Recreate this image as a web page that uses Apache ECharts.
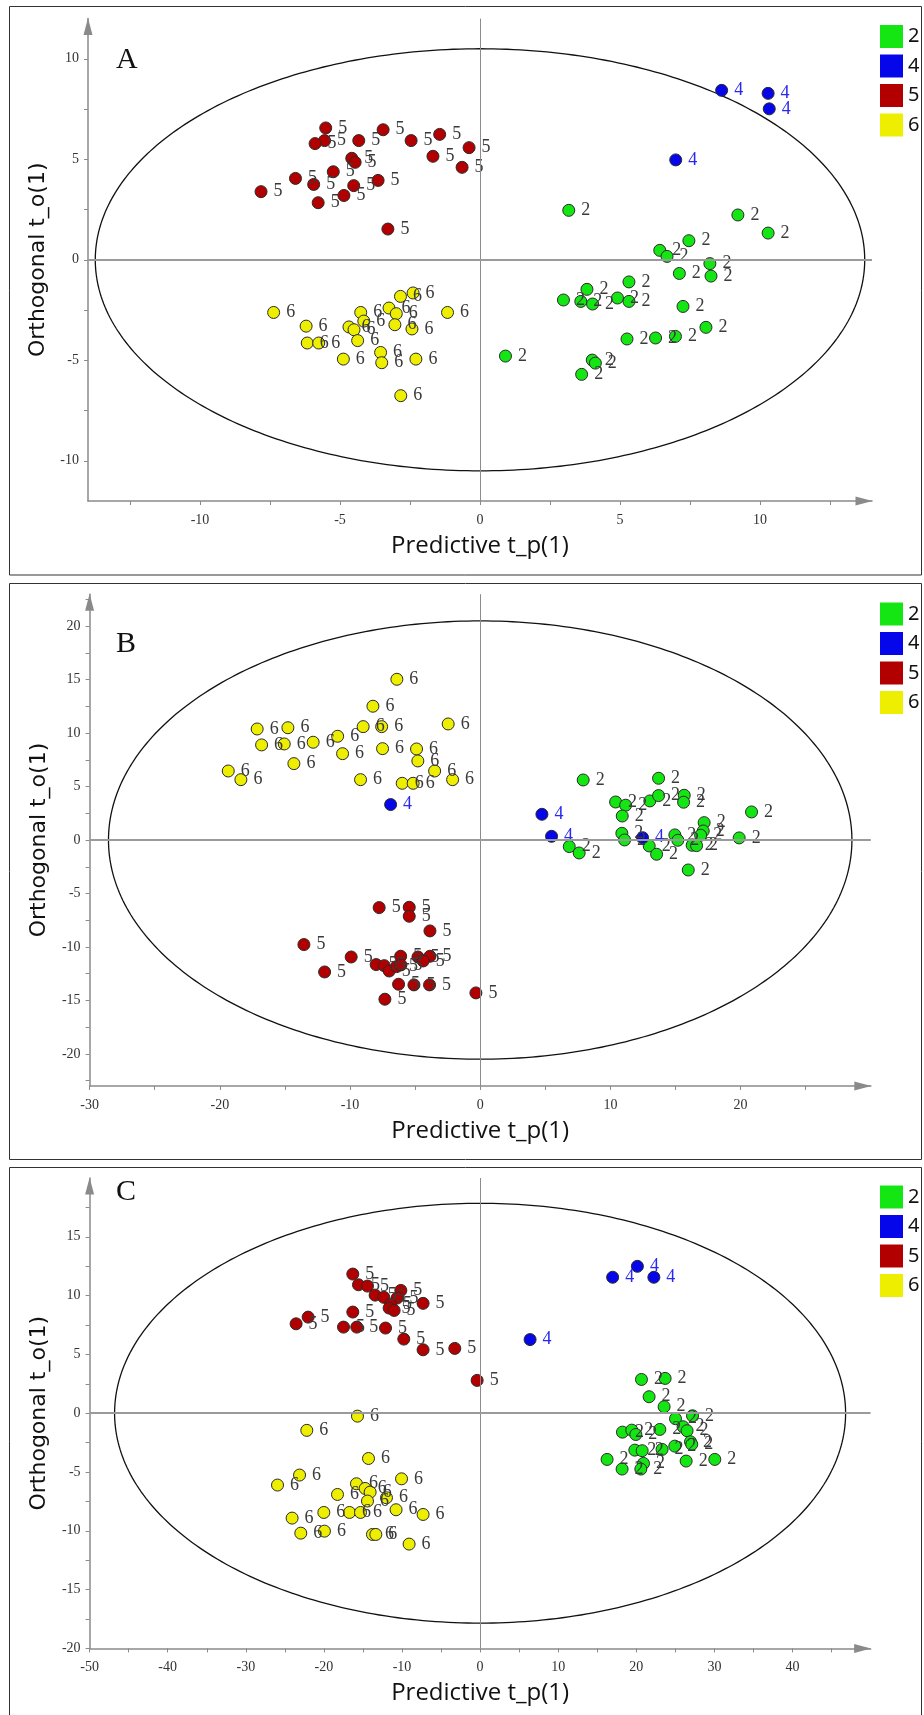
<!DOCTYPE html>
<html>
<head>
<meta charset="utf-8">
<script src="https://cdn.jsdelivr.net/npm/echarts@6/dist/echarts.min.js"></script>
<style>
  html, body { margin: 0; padding: 0; background: #ffffff; }
  #chart { width: 924px; height: 1715px; }
</style>
</head>
<body>
<div id="chart"></div>
<script>
// OPLS-DA score plots (predictive vs. orthogonal component), three models A, B, C.
// Classes: 2, 4, 5, 6. Each entry is [t_p(1), t_o(1)].

const classes = ['2', '4', '5', '6'];

// ---- Model A ----
const A_class2 = [[3.17,2.46],[9.21,2.23],[10.29,1.33],[7.46,0.95],[6.42,0.47],[6.68,0.17],[8.21,-0.19],[8.25,-0.81],[7.12,-0.68],[5.32,-1.10],[3.82,-1.47],[2.98,-2.00],[3.60,-2.07],[4.02,-2.20],[4.91,-1.90],[5.32,-2.07],[7.25,-2.32],[8.07,-3.36],[5.25,-3.94],[6.27,-3.89],[6.98,-3.81],[0.91,-4.79],[4.01,-4.99],[4.12,-5.14],[3.63,-5.70]];
const A_class4 = [[8.63,8.43],[10.29,8.28],[10.33,7.51],[6.99,4.97]];
const A_class5 = [[-5.51,6.56],[-5.55,5.93],[-5.89,5.78],[-4.33,5.93],[-3.46,6.47],[-2.46,5.93],[-1.44,6.24],[-0.39,5.58],[-1.68,5.15],[-0.64,4.60],[-4.58,5.05],[-4.46,4.85],[-5.24,4.38],[-6.59,4.05],[-5.94,3.75],[-4.51,3.69],[-3.64,3.95],[-7.82,3.39],[-4.86,3.20],[-5.78,2.84],[-3.29,1.53]];
const A_class6 = [[-7.37,-2.62],[-6.21,-3.30],[-6.17,-4.14],[-5.76,-4.14],[-4.88,-4.94],[-4.68,-3.34],[-4.50,-3.48],[-4.37,-4.02],[-4.26,-2.62],[-4.15,-3.05],[-3.55,-4.61],[-3.51,-5.12],[-3.25,-2.40],[-2.99,-2.68],[-3.04,-3.23],[-2.84,-1.82],[-2.39,-1.65],[-2.43,-3.44],[-2.29,-4.94],[-1.16,-2.62],[-2.83,-6.76]];

// ---- Model B ----
const B_class2 = [[7.91,5.62],[13.70,5.78],[10.40,3.56],[11.17,3.26],[10.91,2.25],[13.03,3.66],[13.70,4.16],[15.67,4.19],[15.62,3.54],[20.84,2.63],[17.20,1.63],[17.13,0.85],[16.93,0.45],[10.88,0.63],[11.09,0.01],[14.95,0.48],[15.18,-0.02],[19.89,0.20],[6.84,-0.61],[7.60,-1.21],[12.98,-0.55],[13.55,-1.33],[16.28,-0.49],[16.62,-0.52],[15.98,-2.80]];
const B_class4 = [[-6.88,3.32],[4.74,2.41],[5.48,0.35],[12.47,0.22]];
const B_class5 = [[-7.76,-6.32],[-5.45,-6.29],[-5.45,-7.13],[-3.86,-8.50],[-13.54,-9.78],[-9.91,-10.94],[-6.11,-10.87],[-4.78,-10.94],[-3.86,-10.87],[-4.38,-11.31],[-7.99,-11.65],[-7.37,-11.75],[-6.99,-12.25],[-6.42,-11.84],[-6.09,-11.68],[-11.95,-12.34],[-6.27,-13.49],[-5.09,-13.55],[-3.89,-13.55],[-7.32,-14.89],[-0.33,-14.30]];
const B_class6 = [[-6.40,15.04],[-8.24,12.52],[-17.13,10.39],[-14.77,10.51],[-8.99,10.61],[-7.57,10.61],[-2.46,10.86],[-16.79,8.90],[-15.05,8.99],[-12.83,9.15],[-10.95,9.71],[-10.57,8.08],[-7.50,8.55],[-4.89,8.52],[-14.31,7.15],[-4.79,7.40],[-3.50,6.46],[-19.35,6.46],[-18.38,5.65],[-9.19,5.65],[-5.99,5.31],[-5.15,5.31],[-2.12,5.65]];

// ---- Model C ----
const C_class2 = [[20.66,2.87],[23.69,2.96],[21.64,1.40],[23.56,0.55],[25.02,-0.47],[27.20,-0.22],[25.99,-1.15],[26.50,-1.49],[18.23,-1.61],[19.42,-1.44],[19.94,-1.81],[23.01,-1.38],[24.93,-2.80],[26.94,-2.43],[27.10,-2.65],[19.81,-3.14],[20.75,-3.19],[23.30,-3.08],[16.26,-3.93],[20.92,-4.27],[26.38,-4.07],[30.05,-3.93],[18.18,-4.75],[20.58,-4.75]];
const C_class4 = [[16.97,11.56],[20.14,12.49],[22.25,11.56],[6.40,6.26]];
const C_class5 = [[-16.30,11.83],[-15.57,10.92],[-14.42,10.81],[-10.15,10.44],[-13.44,10.04],[-12.33,9.85],[-10.63,9.79],[-7.30,9.34],[-11.47,9.25],[-11.65,8.94],[-11.01,8.74],[-16.30,8.60],[-22.02,8.17],[-23.56,7.60],[-17.49,7.32],[-15.79,7.32],[-12.11,7.24],[-9.77,6.30],[-7.30,5.39],[-3.24,5.51],[-0.38,2.79]];
const C_class6 = [[-15.70,-0.25],[-22.19,-1.46],[-14.29,-3.85],[-23.12,-5.26],[-25.94,-6.11],[-10.06,-5.58],[-15.83,-6.00],[-14.72,-6.40],[-14.08,-6.71],[-18.26,-6.91],[-11.99,-7.19],[-14.42,-7.47],[-24.07,-8.92],[-20.01,-8.44],[-16.72,-8.44],[-15.31,-8.44],[-10.76,-8.21],[-7.30,-8.61],[-22.96,-10.20],[-19.93,-10.03],[-13.78,-10.31],[-13.35,-10.31],[-9.09,-11.13]];

// Hotelling T2 (95%) ellipse semi-axes per model: [t_p, t_o]
const A_t2 = [13.74, 10.5];
const B_t2 = [28.55, 20.5];
const C_t2 = [46.8, 17.85];

// Axis ranges, labelled ticks and tick marks
const A_xRange = [-14, 14],  A_xLabels = [-10, -5, 0, 5, 10],          A_xTicks = [-12.5,-10,-7.5,-5,-2.5,0,2.5,5,7.5,10,12.5];
const A_yRange = [-12, 12],  A_yLabels = [-10, -5, 0, 5, 10],          A_yTicks = [-10,-7.5,-5,-2.5,0,2.5,5,7.5,10];
const B_xRange = [-30, 30],  B_xLabels = [-30, -20, -10, 0, 10, 20],   B_xTicks = [-30,-25,-20,-15,-10,-5,0,5,10,15,20,25];
const B_yRange = [-23, 23],  B_yLabels = [-20, -15, -10, -5, 0, 5, 10, 15, 20], B_yTicks = [-22.5,-20,-17.5,-15,-12.5,-10,-7.5,-5,-2.5,0,2.5,5,7.5,10,12.5,15,17.5,20,22.5];
const C_xRange = [-50, 50],  C_xLabels = [-50, -40, -30, -20, -10, 0, 10, 20, 30, 40], C_xTicks = [-50,-45,-40,-35,-30,-25,-20,-15,-10,-5,0,5,10,15,20,25,30,35,40,45];
const C_yRange = [-20, 20],  C_yLabels = [-20, -15, -10, -5, 0, 5, 10, 15], C_yTicks = [-20,-17.5,-15,-12.5,-10,-7.5,-5,-2.5,0,2.5,5,7.5,10,12.5,15,17.5];

const panelLetters = ['A', 'B', 'C'];
const xTitle = 'Predictive t_p(1)';
const yTitle = 'Orthogonal t_o(1)';

// ---- layout & styles ----
const classColors = { '2': '#14e614', '4': '#0606ea', '5': '#b20000', '6': '#eeee00' };
const labelColors = { '2': '#3a3a3a', '4': '#2828f0', '5': '#3a3a3a', '6': '#3a3a3a' };

const panels = [
  { letter: panelLetters[0], grid: { left: 88, top: 18.6, width: 784, height: 482.4 },
    xr: A_xRange, yr: A_yRange, xl: A_xLabels, xt: A_xTicks, yl: A_yLabels, yt: A_yTicks, t2: A_t2,
    data: { '2': A_class2, '4': A_class4, '5': A_class5, '6': A_class6 },
    frame: { y: 6.5, h: 568.5 }, legendTop: 20, letterY: 60 },
  { letter: panelLetters[1], grid: { left: 89.6, top: 594.2, width: 781.2, height: 491.7 },
    xr: B_xRange, yr: B_yRange, xl: B_xLabels, xt: B_xTicks, yl: B_yLabels, yt: B_yTicks, t2: B_t2,
    data: { '2': B_class2, '4': B_class4, '5': B_class5, '6': B_class6 },
    frame: { y: 583.5, h: 576 }, legendTop: 597.5, letterY: 644 },
  { letter: panelLetters[2], grid: { left: 89.6, top: 1178, width: 781, height: 470.4 },
    xr: C_xRange, yr: C_yRange, xl: C_xLabels, xt: C_xTicks, yl: C_yLabels, yt: C_yTicks, t2: C_t2,
    data: { '2': C_class2, '4': C_class4, '5': C_class5, '6': C_class6 },
    frame: { y: 1167.5, h: 560 }, legendTop: 1180.5, letterY: 1192 }
];

const axisGray = '#8a8a8a';
const grids = [], xAxes = [], yAxes = [], series = [], legends = [], graphics = [];

panels.forEach(function (p, i) {
  grids.push(Object.assign({ containLabel: false }, p.grid));

  xAxes.push({
    type: 'value', gridIndex: i, min: p.xr[0], max: p.xr[1],
    splitLine: { show: false },
    axisLine: { show: true, onZero: false, lineStyle: { color: axisGray, width: 1.5 },
      symbol: ['none', 'triangle'], symbolSize: [9, 17], symbolOffset: [0, -8] },
    axisTick: { show: true, length: 4, lineStyle: { color: axisGray }, customValues: p.xt },
    axisLabel: { customValues: p.xl, margin: 12, fontFamily: 'Liberation Serif', fontSize: 14, color: '#333' },
    name: xTitle, nameLocation: 'middle', nameGap: 33,
    nameTextStyle: { fontFamily: 'Open Sans', fontSize: 24, color: '#111' }
  });
  yAxes.push({
    type: 'value', gridIndex: i, min: p.yr[0], max: p.yr[1],
    splitLine: { show: false },
    axisLine: { show: true, onZero: false, lineStyle: { color: axisGray, width: 1.5 },
      symbol: ['none', 'triangle'], symbolSize: [9, 17], symbolOffset: [0, -8] },
    axisTick: { show: true, length: 4, lineStyle: { color: axisGray }, customValues: p.yt },
    axisLabel: { customValues: p.yl, margin: 9, fontFamily: 'Liberation Serif', fontSize: 14, color: '#333' },
    name: yTitle, nameLocation: 'middle', nameGap: 39,
    nameTextStyle: { fontFamily: 'DejaVu Sans', fontSize: 22, color: '#111' }
  });

  // T2 ellipse and the zero reference lines
  series.push({
    type: 'custom', xAxisIndex: i, yAxisIndex: i, silent: true, z: 1, clip: false,
    data: [[0, 0]],
    renderItem: function (params, api) {
      const c = api.coord([0, 0]);
      const ex = api.coord([p.t2[0], 0]);
      const ey = api.coord([0, p.t2[1]]);
      const a = ex[0] - c[0], b = c[1] - ey[1];
      const pts = [];
      for (let k = 0; k <= 360; k++) {
        const t = k * Math.PI / 180;
        pts.push([c[0] + a * Math.cos(t), c[1] + b * Math.sin(t)]);
      }
      return { type: 'polyline', shape: { points: pts }, style: { stroke: '#111', lineWidth: 1.3, fill: null } };
    },
    markLine: {
      silent: true, symbol: 'none', label: { show: false }, animation: false,
      data: [
        { xAxis: 0, lineStyle: { color: '#8c8c8c', width: 1, type: 'solid' } },
        { yAxis: 0, lineStyle: { color: '#9a9a9a', width: 2, type: 'solid' } }
      ]
    }
  });

  classes.forEach(function (cls) {
    series.push({
      name: cls, type: 'scatter', xAxisIndex: i, yAxisIndex: i, z: 3,
      data: p.data[cls],
      symbol: 'circle', symbolSize: 12,
      itemStyle: { color: classColors[cls], borderColor: '#2a2a2a', borderWidth: 1, opacity: 1 },
      label: {
        show: true, position: 'right', distance: 6, formatter: cls,
        fontFamily: 'Liberation Serif', fontSize: 18, color: labelColors[cls]
      },
      emphasis: { disabled: true }
    });
  });

  legends.push({
    orient: 'vertical', left: 875, top: p.legendTop,
    itemWidth: 23, itemHeight: 23, itemGap: 6.5, icon: 'rect',
    selectedMode: false, data: classes,
    itemStyle: { borderWidth: 0 },
    textStyle: { fontFamily: 'Noto Sans', fontSize: 20, color: '#111' }
  });

  graphics.push({
    type: 'rect', silent: true, z: 0,
    shape: { x: 9.5, y: p.frame.y, width: 912, height: p.frame.h },
    style: { stroke: '#333', lineWidth: 1, fill: null }
  });
  graphics.push({
    type: 'text', silent: true, x: 116, y: p.letterY,
    style: { text: p.letter, font: '30px "Liberation Serif"', fill: '#111', textAlign: 'left', textVerticalAlign: 'middle' }
  });
});

const chart = echarts.init(document.getElementById('chart'), null, { renderer: 'canvas' });
chart.setOption({
  animation: false,
  backgroundColor: '#ffffff',
  grid: grids, xAxis: xAxes, yAxis: yAxes,
  legend: legends,
  series: series,
  graphic: graphics
});
</script>
</body>
</html>
